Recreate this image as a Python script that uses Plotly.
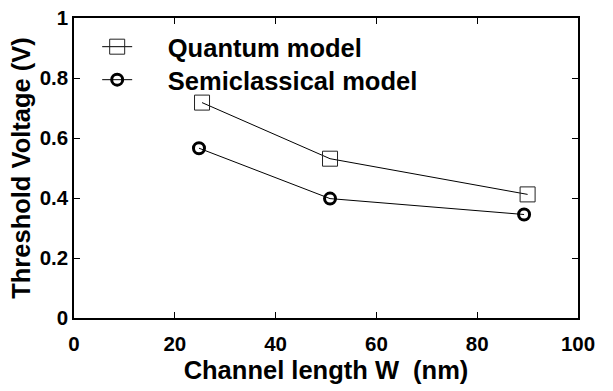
import plotly.graph_objects as go

# Data
quantum_x = [25.4, 50.8, 90.0]
quantum_y = [0.718, 0.531, 0.412]
semi_x = [24.8, 50.8, 89.3]
semi_y = [0.566, 0.398, 0.345]

x_ticks = [0, 20, 40, 60, 80, 100]
y_ticks = [0, 0.2, 0.4, 0.6, 0.8, 1]
y_tick_labels = ["0", "0.2", "0.4", "0.6", "0.8", "1"]

FONT = "Liberation Sans, Arial, Helvetica, sans-serif"
GAP = "\u2002\u2002\u2009"

fig = go.Figure()
fig.add_trace(go.Scatter(
    x=quantum_x, y=quantum_y, mode="lines+markers", name=GAP + "Quantum model",
    line=dict(color="black", width=1), legend="legend",
    marker=dict(symbol="square-open", size=15, color="#222", line=dict(width=1, color="#222")),
))
fig.add_trace(go.Scatter(
    x=semi_x, y=semi_y, mode="lines+markers", name=GAP + "Semiclassical model",
    line=dict(color="black", width=1), legend="legend2",
    marker=dict(symbol="circle-open", size=11, color="black", line=dict(width=3, color="black")),
))

axis_common = dict(
    showline=True, linecolor="black", linewidth=1.5, mirror="allticks",
    ticks="inside", ticklen=6, tickwidth=1, tickcolor="black",
    showgrid=False, zeroline=False, automargin=False,
    tickfont=dict(family=FONT, size=20.5, color="black", weight="bold"),
)

fig.update_xaxes(
    range=[0, 100], tickvals=x_ticks, ticktext=[str(v) for v in x_ticks],
    ticklabelstandoff=7,
    title=dict(text="Channel length W  (nm)", font=dict(family=FONT, size=25.5, color="black", weight="bold"), standoff=7),
    **axis_common,
)
fig.update_yaxes(
    range=[0, 1], tickvals=y_ticks, ticktext=y_tick_labels,
    ticklabelstandoff=0,
    title=dict(text="Threshold Voltage (V)", font=dict(family=FONT, size=25.5, color="black", weight="bold"), standoff=2),
    **axis_common,
)

leg_font = dict(family=FONT, size=25.5, color="black", weight="bold")
fig.update_layout(
    width=613, height=391,
    margin=dict(l=74, r=35, t=18, b=73),
    paper_bgcolor="white", plot_bgcolor="white",
    font=dict(family=FONT, color="black"),
    showlegend=True,
    legend=dict(
        x=0.046, y=0.903, xanchor="left", yanchor="middle",
        bgcolor="rgba(0,0,0,0)", borderwidth=0, font=leg_font, itemwidth=30,
    ),
    legend2=dict(
        x=0.046, y=0.793, xanchor="left", yanchor="middle",
        bgcolor="rgba(0,0,0,0)", borderwidth=0, font=leg_font, itemwidth=30,
    ),
)

fig.write_html("out.html")
